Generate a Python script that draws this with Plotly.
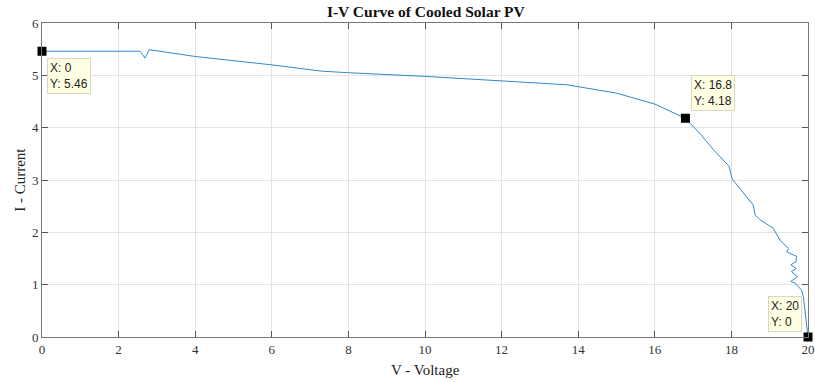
import plotly.graph_objects as go

# I-V measurements of the cooled PV module
voltage = [0.0, 0.5, 1.0, 1.5, 2.0, 2.56, 2.69, 2.80, 4.0, 6.0, 7.3, 8.0, 10.0, 12.0,
           13.7, 15.0, 16.0, 16.8, 17.2, 17.53, 17.94, 18.02, 18.31, 18.57, 18.62,
           18.75, 19.09, 19.22, 19.27, 19.49, 19.44, 19.70, 19.69, 19.55, 19.69,
           19.57, 19.72, 19.55, 19.66, 19.75, 19.83, 19.88, 20.0]
current = [5.46, 5.46, 5.46, 5.46, 5.46, 5.46, 5.33, 5.49, 5.36, 5.20, 5.08, 5.05, 4.98, 4.90,
           4.82, 4.66, 4.45, 4.18, 3.87, 3.58, 3.26, 3.02, 2.75, 2.52, 2.33,
           2.24, 2.08, 1.92, 1.85, 1.69, 1.63, 1.54, 1.44, 1.38, 1.31,
           1.25, 1.15, 1.06, 1.03, 0.96, 0.90, 0.77, 0.0]

# data tips and where each label box sits relative to its point
tip_x = [0, 16.8, 20]
tip_y = [5.46, 4.18, 0]
tip_xlabel = ["0", "16.8", "20"]
tip_ylabel = ["5.46", "4.18", "0"]
tip_place = [("left", "top", 5, -7), ("left", "bottom", 6, 7), ("right", "bottom", -6, 5)]

x_ticks = list(range(0, 21, 2))
y_ticks = list(range(0, 7))

serif = "Liberation Serif, Times New Roman, serif"

fig = go.Figure()
fig.add_trace(go.Scatter(x=voltage, y=current, mode="lines",
                         line=dict(color="#2f89cb", width=1), hoverinfo="skip"))
fig.add_trace(go.Scatter(x=tip_x, y=tip_y, mode="markers",
                         marker=dict(color="black", size=9, symbol="square"),
                         hoverinfo="skip", cliponaxis=False))

for xv, yv, xl, yl, (xa, ya, xs, ys) in zip(tip_x, tip_y, tip_xlabel, tip_ylabel, tip_place):
    fig.add_annotation(x=xv, y=yv, xref="x", yref="y", showarrow=False,
                       text=f"X: {xl}<br>Y: {yl}", align="left",
                       xanchor=xa, yanchor=ya, xshift=xs, yshift=ys,
                       font=dict(family="Liberation Sans, Arial", size=12, color="#222"),
                       bgcolor="#ffffe3", bordercolor="#d8d8c0", borderwidth=1, borderpad=2)

# axis titles
fig.add_annotation(text="V - Voltage", xref="paper", yref="paper", x=0.5, y=-0.105,
                   xanchor="center", yanchor="middle", showarrow=False,
                   font=dict(family=serif, size=15, color="#222"))
fig.add_annotation(text="I - Current", xref="paper", yref="paper", x=-0.029, y=0.5,
                   xanchor="center", yanchor="middle", showarrow=False, textangle=-90,
                   font=dict(family=serif, size=15, color="#222"))

axis_common = dict(showline=True, linecolor="#777", linewidth=1, mirror="ticks",
                   ticks="inside", ticklen=6, tickcolor="#555", automargin=False,
                   showgrid=True, gridcolor="#e3e3e3", gridwidth=1, zeroline=False,
                   tickfont=dict(family=serif, size=13, color="#333"))

fig.update_layout(
    width=815, height=382,
    margin=dict(l=42, r=7, t=23, b=45),
    paper_bgcolor="white", plot_bgcolor="white",
    showlegend=False,
    title=dict(text="<b>I-V Curve of Cooled Solar PV</b>", x=0.5225, xanchor="center",
               y=0.969, yanchor="middle",
               font=dict(family=serif, size=15.5, color="#111")),
    xaxis=dict(range=[0, 20], tickvals=x_ticks, ticktext=[str(v) for v in x_ticks],
               **axis_common),
    yaxis=dict(range=[0, 6], tickvals=y_ticks, ticktext=[str(v) for v in y_ticks],
               **axis_common),
)

fig.write_html("out.html")
